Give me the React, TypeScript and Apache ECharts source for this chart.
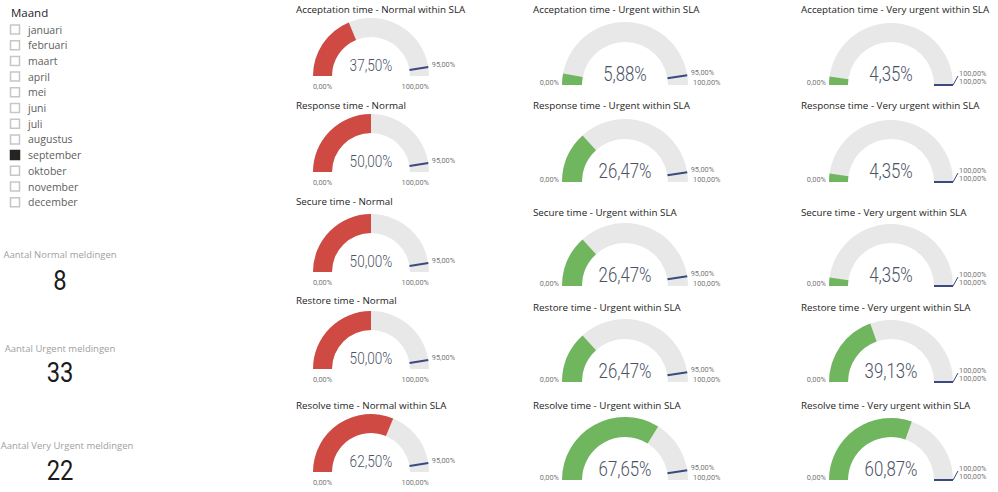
import React, { useEffect, useRef } from "react";
import * as echarts from "echarts";

// ---------- data ----------
const months = ["januari", "februari", "maart", "april", "mei", "juni", "juli", "augustus", "september", "oktober", "november", "december"];
const selectedMonth = "september";
const sliceTitle = "Maand";

const cardLabels = ["Aantal Normal meldingen", "Aantal Urgent meldingen", "Aantal Very Urgent meldingen"];
const cardValues = [8, 33, 22];

const metrics = ["Acceptation time", "Response time", "Secure time", "Restore time", "Resolve time"];
const normalSuffixes = ["Normal within SLA", "Normal", "Normal", "Normal", "Normal within SLA"];
const urgentSuffixes = ["Urgent within SLA", "Urgent within SLA", "Urgent within SLA", "Urgent within SLA", "Urgent within SLA"];
const veryUrgentSuffixes = ["Very urgent within SLA", "Very urgent within SLA", "Very urgent within SLA", "Very urgent within SLA", "Very urgent within SLA"];

const normalValues = [37.5, 50.0, 50.0, 50.0, 62.5];
const urgentValues = [5.88, 26.47, 26.47, 26.47, 67.65];
const veryUrgentValues = [4.35, 4.35, 4.35, 39.13, 60.87];

const gaugeMin = 0;
const gaugeMax = 100;
const targets = [95, 95, 100];

// ---------- styling / layout ----------
const RED = "#D04A44";
const GREEN = "#70B65E";
const TRACK = "#E8E8E8";
const NAVY = "#3A4A80";
const LABEL = "#777777";
const VALUE = "#4a5264";
const ROBOTO = "Roboto, 'Noto Sans', sans-serif";
const UI = "'Open Sans', 'Noto Sans', sans-serif";

const columns = [
  { values: normalValues, suffixes: normalSuffixes, target: targets[0], color: RED, cx: 371, r: 58, w: 19, cys: [76, 172, 272, 369, 472], titleX: 296, titleYs: [9, 105, 201, 300, 405], fontSize: 17, below: true },
  { values: urgentValues, suffixes: urgentSuffixes, target: targets[1], color: GREEN, cx: 625, r: 63, w: 20, cys: [85, 182, 286, 382, 480], titleX: 533, titleYs: [9, 105, 212, 307, 405], fontSize: 21, below: false },
  { values: veryUrgentValues, suffixes: veryUrgentSuffixes, target: targets[2], color: GREEN, cx: 891, r: 62, w: 19, cys: [85, 182, 286, 382, 480], titleX: 801, titleYs: [9, 105, 212, 307, 405], fontSize: 21, below: false },
];

const fmt = (v: number) => v.toFixed(2).replace(".", ",") + "%";

function txt(x: number, y: number, text: string, font: string, fill: string, align = "left", vAlign = "middle", scaleX = 1) {
  return {
    type: "text",
    x,
    y,
    scaleX,
    silent: true,
    style: { text, font, fill, align, verticalAlign: vAlign, textAlign: align, textVerticalAlign: vAlign },
  };
}

export default function App() {
  const ref = useRef<HTMLDivElement>(null);

  useEffect(() => {
    if (!ref.current) return;
    const chart = echarts.init(ref.current, undefined, { renderer: "svg" });

    const series: any[] = [];
    const graphics: any[] = [];

    // slicer
    graphics.push(txt(11, 12.5, sliceTitle, `11.5px ${UI}`, "#252423"));
    months.forEach((m, i) => {
      const yc = 29.5 + i * 15.7;
      const sel = m === selectedMonth;
      graphics.push({
        type: "rect",
        silent: true,
        shape: { x: 10.5, y: yc - 4.5, width: 9, height: 9 },
        style: { fill: sel ? "#252423" : "#ffffff", stroke: sel ? "#252423" : "#c6c6c6", lineWidth: 1.5 },
      });
      graphics.push(txt(28, yc, m, `10.5px ${UI}`, "#605E5C"));
    });

    // cards
    const cardLabelY = [254, 348, 445];
    const cardValueY = [280, 372, 470];
    const cardLabelX = [60, 60, 67];
    cardLabels.forEach((l, i) => {
      graphics.push(txt(cardLabelX[i], cardLabelY[i], l, `9.5px ${UI}`, "#a0a0a0", "center"));
      graphics.push(txt(60, cardValueY[i], String(cardValues[i]), `28px ${ROBOTO}`, "#1b1b1b", "center", "middle", 0.85));
    });

    const labelFont = `8px ${ROBOTO}`;
    const LS = 0.92;

    columns.forEach((col) => {
      col.values.forEach((v, i) => {
        const cy = col.cys[i];
        const { cx, r, w } = col;
        // title
        graphics.push(txt(col.titleX, col.titleYs[i], `${metrics[i]} - ${col.suffixes[i]}`, `9.8px ${UI}`, "#252423"));

        // main gauge
        series.push({
          type: "gauge",
          center: [cx, cy],
          radius: r,
          startAngle: 180,
          endAngle: 0,
          min: gaugeMin,
          max: gaugeMax,
          axisLine: { show: true, roundCap: false, lineStyle: { width: w, color: [[1, TRACK]] } },
          progress: { show: true, width: w, roundCap: false, itemStyle: { color: col.color } },
          pointer: { show: false },
          anchor: { show: false },
          axisTick: { show: false },
          splitLine: { show: false },
          axisLabel: { show: false },
          title: { show: false },
          detail: { show: false },
          data: [{ value: v }],
        });

        // value callout
        graphics.push(txt(cx, cy - 11, fmt(v), `300 ${col.fontSize}px ${ROBOTO}`, VALUE, "center", "middle", 0.8));

        // target marker (pointer drawn only across the ring)
        const frac = (w / r) * 100;
        series.push({
          type: "gauge",
          center: [cx, cy],
          radius: r,
          startAngle: 180,
          endAngle: 0,
          min: gaugeMin,
          max: gaugeMax,
          axisLine: { show: false },
          progress: { show: false },
          pointer: {
            show: true,
            icon: `path://M0 0L1 0L1 ${frac.toFixed(2)}L0 ${frac.toFixed(2)}Z M0.5 100L0.5 100`,
            width: 2,
            length: r,
            offsetCenter: [0, 0],
            keepAspect: false,
            itemStyle: { color: NAVY },
          },
          anchor: { show: false },
          axisTick: { show: false },
          splitLine: { show: false },
          axisLabel: { show: false },
          title: { show: false },
          detail: { show: false },
          data: [{ value: col.target }],
        });

        // labels
        const ang = Math.PI * (1 - (col.target - gaugeMin) / (gaugeMax - gaugeMin));
        const ex = cx + r * Math.cos(ang);
        const ey = cy - r * Math.sin(ang);
        if (col.below) {
          graphics.push(txt(cx - r + w / 2, cy + 10, fmt(gaugeMin), labelFont, LABEL, "center", "middle", LS));
          graphics.push(txt(cx + r, cy + 10, fmt(gaugeMax), labelFont, LABEL, "right", "middle", LS));
          graphics.push(txt(ex + 3.5, ey - 2.5, fmt(col.target), labelFont, LABEL, "left", "middle", LS));
        } else {
          graphics.push(txt(cx - r - 3, cy - 3, fmt(gaugeMin), labelFont, LABEL, "right", "middle", LS));
          if (col.target >= gaugeMax) {
            graphics.push({
              type: "polyline",
              silent: true,
              shape: { points: [[ex, ey], [ex + 5, ey - 9]] },
              style: { stroke: NAVY, lineWidth: 1, fill: null },
            });
            graphics.push(txt(cx + r + 6, cy - 12, fmt(col.target), labelFont, LABEL, "left", "middle", LS));
            graphics.push(txt(cx + r + 6, cy - 4, fmt(gaugeMax), labelFont, LABEL, "left", "middle", LS));
          } else {
            graphics.push(txt(ex + 3.5, ey - 3, fmt(col.target), labelFont, LABEL, "left", "middle", LS));
            graphics.push(txt(cx + r + 5, cy - 3, fmt(gaugeMax), labelFont, LABEL, "left", "middle", LS));
          }
        }
      });
    });

    chart.setOption({
      animation: false,
      backgroundColor: "#ffffff",
      series,
      graphic: { elements: graphics },
    });

    return () => chart.dispose();
  }, []);

  return <div ref={ref} style={{ position: "fixed", left: 0, top: 0, width: 998, height: 492 }} />;
}
